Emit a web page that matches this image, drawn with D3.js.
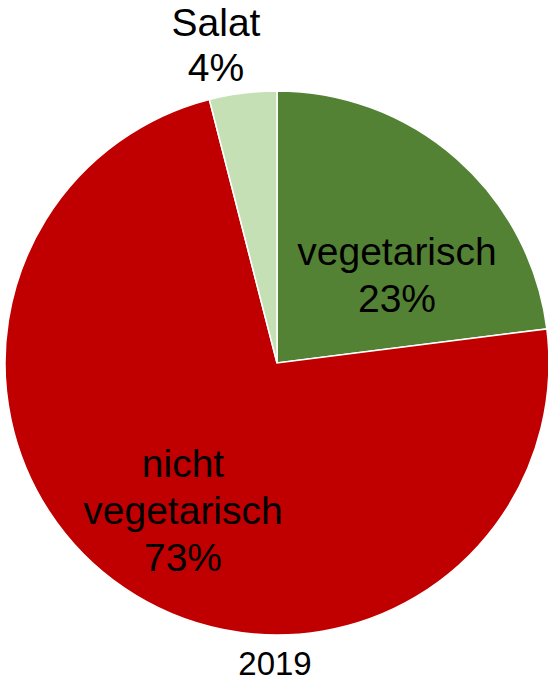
<!DOCTYPE html>
<html><head><meta charset="utf-8">
<script src="https://cdn.jsdelivr.net/npm/d3@7"></script>
<style>html,body{margin:0;padding:0;background:#fff;}svg{display:block;}</style>
</head><body>
<svg id="c" width="548" height="682"></svg>
<script>
const categories = ["vegetarisch", "nicht vegetarisch", "Salat"];
const values = [23, 73, 4];
const labelLines = [["vegetarisch", "23%"], ["nicht", "vegetarisch", "73%"], ["Salat", "4%"]];
const colors = ["#548235", "#C00000", "#C5E0B4"];
const year = "2019";

const svg = d3.select("#c");
const cx = 277, cy = 363, r = 272;
const g = svg.append("g").attr("transform", `translate(${cx},${cy})`);
const pie = d3.pie().sort(null).value(d => d.v);
const data = categories.map((c, i) => ({c, v: values[i], i}));
const arcs = pie(data);
const arc = d3.arc().innerRadius(0).outerRadius(r);
const color = d3.scaleOrdinal().domain(categories).range(colors);

g.selectAll("path").data(arcs).join("path")
  .attr("d", arc)
  .attr("fill", d => color(d.data.c))
  .attr("stroke", "#fff").attr("stroke-width", 1.5);

// label anchor positions (center x, first baseline y) relative to pie center
const labelPos = [[120, -98], [-94, 114], [-61, -327]];
const fs = 39, lh = 47;
arcs.forEach((a, i) => {
  const t = g.append("text")
    .attr("text-anchor", "middle")
    .attr("font-family", "Liberation Sans, Arial, sans-serif")
    .attr("font-size", fs).attr("fill", "#000");
  labelLines[i].forEach((ln, k) => {
    t.append("tspan").attr("x", labelPos[i][0]).attr("y", labelPos[i][1] + k * (i === 2 ? lh - 2 : lh)).text(ln);
  });
});

svg.append("text").attr("x", 275).attr("y", 675)
  .attr("text-anchor", "middle")
  .attr("font-family", "Liberation Sans, Arial, sans-serif")
  .attr("font-size", 33).attr("fill", "#000").text(year);
</script>
</body></html>
